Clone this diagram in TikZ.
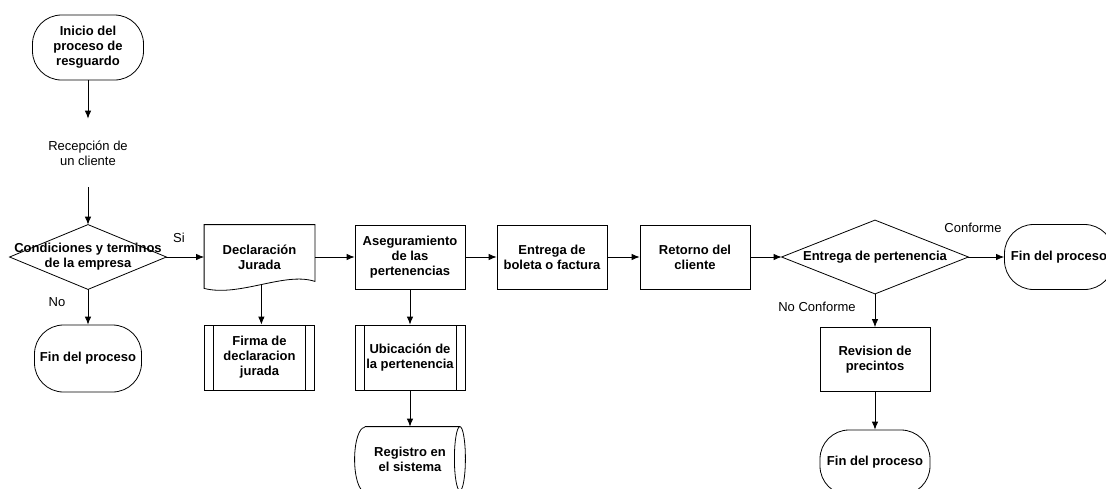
\documentclass[tikz,border=0pt]{standalone}
\usepackage{fontspec}
\setmainfont{Liberation Sans}
\usetikzlibrary{arrows.meta}
\tikzset{
  every block/.style={draw, minimum width=110pt, minimum height=64pt, align=center, inner sep=1pt,
    font=\fontsize{13}{15}\selectfont\bfseries},
  terminal/.style={every block, rounded corners=29pt, minimum height=65pt},
  subproc/.style={every block, minimum height=65pt,
    path picture={\draw ([xshift=9pt]path picture bounding box.north west) -- ([xshift=9pt]path picture bounding box.south west)
      ([xshift=-9pt]path picture bounding box.north east) -- ([xshift=-9pt]path picture bounding box.south east);}},
  shapeonly/.style={every block, draw=none},
  note/.style={font=\fontsize{13}{15}\selectfont, inner sep=0pt, align=center},
  flow/.style={-{Latex[length=8pt,width=6.5pt]}},
}

\begin{document}
\begin{tikzpicture}[x=1pt, y=-1pt, line width=0.8pt]
	\useasboundingbox (0,0) rectangle (1106,488);

	% columna de inicio
	\node [terminal, minimum width=111pt] (inicio) at (88,47.5) {Inicio del\\proceso de\\resguardo};
	\node [note, minimum height=68pt] (recepcion) at (88,153) {Recepción de\\un cliente};
	\node [shapeonly, minimum width=156pt] (condiciones) at (88,257) {Condiciones y terminos\\de la empresa};
	\node [terminal, minimum width=107pt, minimum height=67pt] (fin-a) at (88,358.5) {Fin del proceso};

	% fila principal
	\node [shapeonly] (declaracion) at (259.5,257) {Declaración\\Jurada};
	\node [subproc] (firma) at (259.5,357.5) {Firma de\\declaracion\\jurada};
	\node [every block] (aseguramiento) at (410,257) {Aseguramiento\\de las\\pertenencias};
	\node [subproc] (ubicacion) at (410,357.5) {Ubicación de\\la pertenencia};
	\node [shapeonly] (registro) at (410,459) {Registro en\\el sistema};
	\node [every block] (boleta) at (552,257) {Entrega de\\boleta o factura};
	\node [every block] (retorno) at (695,257) {Retorno del\\cliente};
	\node [shapeonly, minimum width=186pt, minimum height=73pt] (entrega) at (875,257) {Entrega de pertenencia};
	\node [terminal, minimum width=109pt] (fin-b) at (1059,257) {Fin del proceso};
	\node [every block] (revision) at (875,359.5) {Revision de\\precintos};
	\node [terminal] (fin-c) at (875,462.5) {Fin del proceso};

	% etiquetas
	\node [note] (si) at (179,238) {Si};
	\node [note] (no) at (57,302) {No};
	\node [note] (conforme) at (973,228) {Conforme};
	\node [note] (no-conforme) at (817,307) {No Conforme};

	% formas especiales
	\foreach \n in {condiciones, entrega}
		\draw (\n.west) -- (\n.north) -- (\n.east) -- (\n.south) -- cycle;
	\draw (declaracion.north west) -- (declaracion.north east) -- ([yshift=8pt]declaracion.south east)
		.. controls ([xshift=-30pt,yshift=18pt]declaracion.south east) and ([xshift=35pt,yshift=-8pt]declaracion.south west) ..
		([yshift=1pt]declaracion.south west) coordinate[pos=0.5] (declaracion-onda) -- cycle;
	\draw ([xshift=10pt]registro.north west) -- ([xshift=-5.5pt]registro.north east)
		arc[start angle=90, end angle=-90, x radius=5.5pt, y radius=32pt]
		-- ([xshift=10pt]registro.south west)
		arc[start angle=270, end angle=90, x radius=10pt, y radius=32pt];
	\draw ([xshift=-5.5pt]registro.north east) arc[start angle=90, end angle=270, x radius=5.5pt, y radius=32pt];

	% conectores
	\foreach \a/\b in {inicio/recepcion, recepcion/condiciones, condiciones/fin-a, aseguramiento/ubicacion,
		ubicacion/registro, entrega/revision, revision/fin-c}
		\draw [flow] (\a.south) -- (\b.north);
	\foreach \a/\b in {condiciones/declaracion, declaracion/aseguramiento, aseguramiento/boleta,
		boleta/retorno, retorno/entrega, entrega/fin-b}
		\draw [flow] (\a.east) -- (\b.west);
	\draw [flow] (declaracion-onda) -- (declaracion-onda |- firma.north);
\end{tikzpicture}
\end{document}
